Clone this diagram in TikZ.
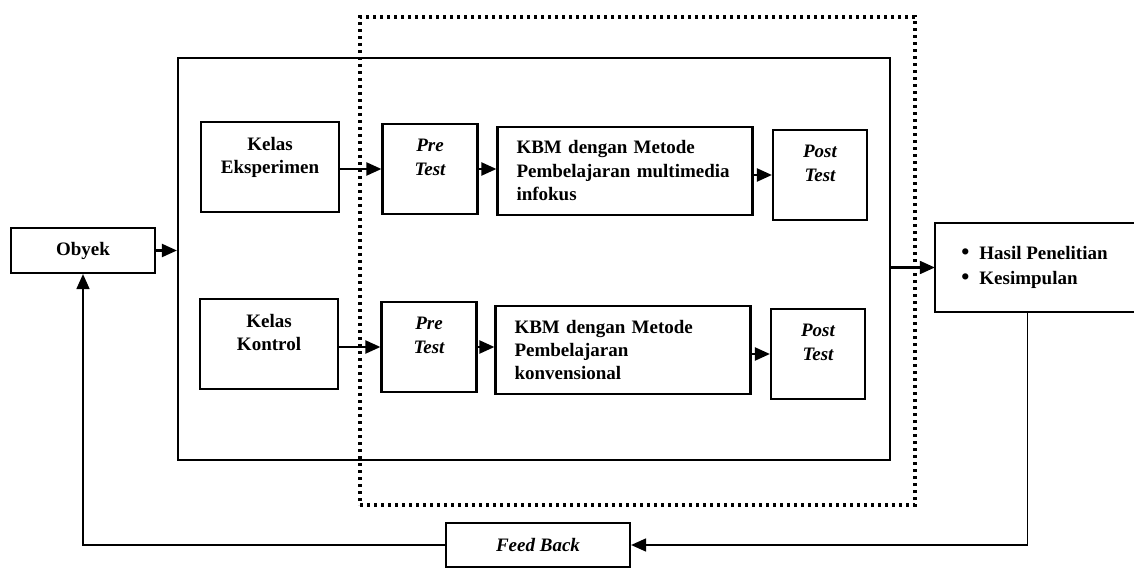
\documentclass[tikz,border=0pt]{standalone}
\usepackage{fontspec}
\setmainfont{Liberation Serif}
\usetikzlibrary{arrows.meta}
\begin{document}
\begin{tikzpicture}[x=1pt,y=-1pt,
  box/.style={draw, line width=2.2pt, align=center, inner sep=0pt,
    font=\bfseries\fontsize{19}{23.5}\selectfont},
  itbox/.style={box, font=\bfseries\itshape\fontsize{19}{23.5}\selectfont},
  kbmbox/.style={box, align=left, text width=217pt, inner xsep=19pt,
    minimum height=88pt},
  frame/.style={draw, line width=2.2pt, inner sep=0pt},
  dotbox/.style={draw, line width=3.4pt, dash pattern=on 3.4pt off 3.6pt, inner sep=0pt},
  arr/.style={line width=2.2pt, -{Triangle[length=15pt,width=13pt]}},
  fbarr/.style={line width=1.7pt, -{Triangle[length=15pt,width=13pt]}},
]
\useasboundingbox (0,0) rectangle (1134,569);

% outer frames
\node[frame, minimum width=712pt, minimum height=402pt] (big) at (534,259) {};
\node[dotbox, minimum width=555pt, minimum height=488pt] (dots) at (637.5,261) {};

% left object
\node[box, minimum width=144pt, minimum height=45pt] (obyek) at (83,250.5) {Obyek};

% row 1
\node[box, minimum width=138pt, minimum height=90pt] (ke) at (270,167) {Kelas\\Eksperimen\\\mbox{}};
\node[itbox, minimum width=95pt, minimum height=90pt] (pre1) at (430,169) {Pre\\Test\\\mbox{}};
\node[kbmbox] (kbm1) at (625,171) {KBM dengan Metode\\Pembelajaran multimedia\\infokus};
\node[itbox, minimum width=94pt, minimum height=90pt] (post1) at (820,175) {Post\\Test\\\mbox{}};

% row 2
\node[box, minimum width=138pt, minimum height=90pt] (kk) at (269,344) {Kelas\\Kontrol\\\mbox{}};
\node[itbox, minimum width=95pt, minimum height=90pt] (pre2) at (429,347) {Pre\\Test\\\mbox{}};
\node[kbmbox] (kbm2) at (623,350) {KBM dengan Metode\\Pembelajaran\\konvensional};
\node[itbox, minimum width=94pt, minimum height=90pt] (post2) at (818,354) {Post\\Test\\\mbox{}};

% result box (right side runs off the page)
\node[minimum width=199pt, minimum height=89pt, inner sep=0pt, align=left,
  font=\bfseries\fontsize{19}{25}\selectfont] (hasil) at (1034.5,267.5)
  {{\fontsize{23}{25}\selectfont\textbullet}\hspace{10pt}Hasil Penelitian\\{\fontsize{23}{25}\selectfont\textbullet}\hspace{10pt}Kesimpulan};
\draw[line width=2.2pt] (hasil.north east) -- (hasil.north west) -- (hasil.south west) -- (hasil.south east);

% feedback box
\node[itbox, minimum width=184pt, minimum height=44pt] (feed) at (538,545) {Feed Back};

% connectors
\draw[arr] (obyek.east) -- (big.west |- obyek.east);
\draw[arr] (ke.east |- pre1.west) -- (pre1.west);
\draw[arr] (pre1.east) -- (kbm1.west |- pre1.east);
\draw[arr] (kbm1.east |- post1.west) -- (post1.west);
\draw[arr] (kk.east |- pre2.west) -- (pre2.west);
\draw[arr] (pre2.east) -- (kbm2.west |- pre2.east);
\draw[arr] (kbm2.east |- post2.west) -- (post2.west);
\draw[arr] (big.east |- hasil.west) -- (hasil.west);

\coordinate (fbstart) at ([xshift=-7pt]hasil.south);
\draw[fbarr] (fbstart) |- (feed.east);
\draw[fbarr] (feed.west) -| (obyek.south);
\end{tikzpicture}
\end{document}
